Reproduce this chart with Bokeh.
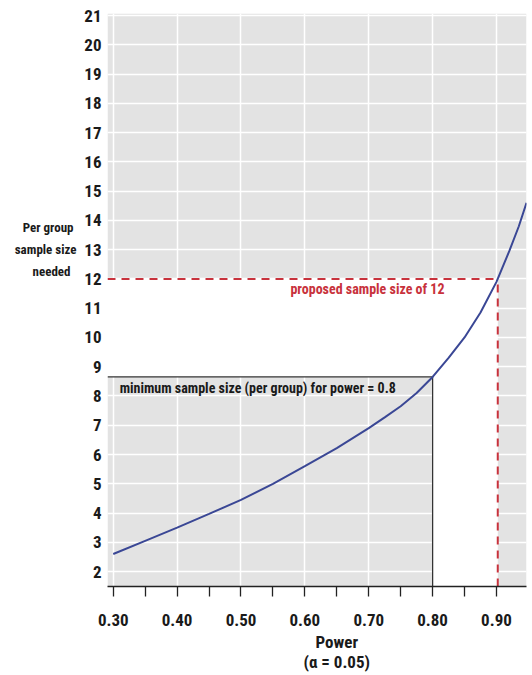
from bokeh.plotting import figure
from bokeh.models import FixedTicker, PrintfTickFormatter, Label, Range1d, LinearAxis
from bokeh.embed import file_html
from bokeh.resources import INLINE

# ---- data ----
power = [0.30, 0.35, 0.40, 0.45, 0.50, 0.55, 0.60, 0.65, 0.70, 0.725, 0.75,
         0.775, 0.80, 0.825, 0.85, 0.875, 0.90, 0.92, 0.935, 0.947]
n_needed = [2.6, 3.05, 3.5, 3.97, 4.45, 5.0, 5.6, 6.22, 6.9, 7.27, 7.65,
            8.1, 8.65, 9.3, 10.0, 10.85, 11.9, 12.95, 13.8, 14.6]
min_power = 0.80
min_n = 8.65
proposed_n = 12
proposed_power = 0.902
x_ticks = [0.30, 0.40, 0.50, 0.60, 0.70, 0.80, 0.90]
x_minor = [0.35, 0.45, 0.55, 0.65, 0.75, 0.85]
y_ticks = list(range(2, 22))
x_lo, x_hi = 0.291, 0.947
y_lo, y_hi = 1.49, 21.07

NB = "\u00a0"
y_title_lines = ["Per group" + NB, "sample size", "needed" + NB * 2]
y_title_pos = [13.76, 12.99, 12.25]
x_title = "Power\n(α = 0.05)"
x_title_pos = 0.65

FONT = "'Liberation Sans Narrow', 'Roboto Condensed', 'Arial Narrow', sans-serif"
GREY = "#e3e3e3"
RED = "#c8323c"
DARK = "#1a1a1a"

p = figure(width=532, height=675, output_backend="svg", toolbar_location=None,
           x_range=Range1d(x_lo, x_hi), y_range=Range1d(y_lo, y_hi),
           min_border_left=107, min_border_right=6, min_border_top=13,
           min_border_bottom=89)
p.outline_line_color = None
p.background_fill_color = "white"
p.border_fill_color = "white"

# grey panel regions (white L-shaped area left uncovered)
p.quad(left=[x_lo, proposed_power, x_lo], right=[x_hi, x_hi, min_power],
       bottom=[proposed_n, y_lo, y_lo], top=[y_hi, proposed_n, min_n],
       fill_color=GREY, line_color=None, level="image")

# grids
p.xgrid.ticker = FixedTicker(ticks=x_ticks)
p.ygrid.ticker = FixedTicker(ticks=y_ticks)
p.xgrid.grid_line_color = "white"
p.ygrid.grid_line_color = "white"
p.xgrid.grid_line_width = 1.5
p.ygrid.grid_line_width = 1.5

# x axis
p.xaxis.ticker = FixedTicker(ticks=x_ticks, minor_ticks=x_minor)
p.xaxis.formatter = PrintfTickFormatter(format="%.2f")
p.xaxis.axis_line_color = "#222222"
p.xaxis.axis_line_width = 1.5
p.xaxis.major_tick_line_color = "#222222"
p.xaxis.minor_tick_line_color = "#222222"
p.xaxis.major_tick_line_width = 1.3
p.xaxis.minor_tick_line_width = 1.3
p.xaxis.major_tick_in = 0
p.xaxis.major_tick_out = 10
p.xaxis.minor_tick_in = 0
p.xaxis.minor_tick_out = 10
p.xaxis.major_label_standoff = 17
p.xaxis.major_label_text_font = FONT
p.xaxis.major_label_text_font_size = "17px"
p.xaxis.major_label_text_font_style = "bold"
p.xaxis.major_label_text_color = DARK

# y axis
p.yaxis.ticker = FixedTicker(ticks=y_ticks)
p.yaxis.axis_line_color = None
p.yaxis.major_tick_line_color = None
p.yaxis.minor_tick_line_color = None
p.yaxis.major_tick_out = 0
p.yaxis.major_tick_in = 0
p.yaxis.major_label_standoff = 6
p.yaxis.major_label_text_font = FONT
p.yaxis.major_label_text_font_size = "17px"
p.yaxis.major_label_text_font_style = "bold"
p.yaxis.major_label_text_color = DARK


def text_axis(ticks, labels, size, standoff, where):
    ax = LinearAxis(ticker=FixedTicker(ticks=ticks, minor_ticks=[]),
                    major_label_overrides=dict(zip(ticks, labels)))
    ax.axis_line_color = None
    ax.major_tick_line_color = None
    ax.minor_tick_line_color = None
    ax.major_tick_in = 0
    ax.major_tick_out = 0
    ax.minor_tick_in = 0
    ax.minor_tick_out = 0
    ax.major_label_standoff = standoff
    ax.major_label_text_font = FONT
    ax.major_label_text_font_size = size
    ax.major_label_text_font_style = "bold"
    ax.major_label_text_color = DARK
    p.add_layout(ax, where)
    return ax


# y title (three lines, left of tick labels)
text_axis(y_title_pos, y_title_lines, "13px", 5, "left")
# x title with alpha note on a second line
xt = text_axis([x_title_pos], [x_title], "17px", 3, "below")
xt.major_label_text_line_height = 1.0

# reference lines
p.line([x_lo, min_power], [min_n, min_n], line_color="#333333", line_width=1.3)
p.line([min_power, min_power], [y_lo, min_n], line_color="#333333", line_width=1.3)
p.line([x_lo, proposed_power], [proposed_n, proposed_n], line_color=RED,
       line_width=2, line_dash="8 6")
p.line([proposed_power, proposed_power], [y_lo, proposed_n], line_color=RED,
       line_width=2, line_dash="8 6")

# curve
p.line(power, n_needed, line_color="#3a4795", line_width=2)


def lab(x, y, text, size, color=DARK, align="center"):
    p.add_layout(Label(x=x, y=y, text=text, text_align=align,
                       text_baseline="middle", text_font=FONT,
                       text_font_size=size, text_font_style="bold",
                       text_color=color))


lab(0.310, 8.29, "minimum sample size (per group) for power = 0.8", "14px",
    align="left")
lab(0.698, 11.67, "proposed sample size of 12", "14px", color=RED)

open("out.html", "w").write(file_html(p, INLINE))
